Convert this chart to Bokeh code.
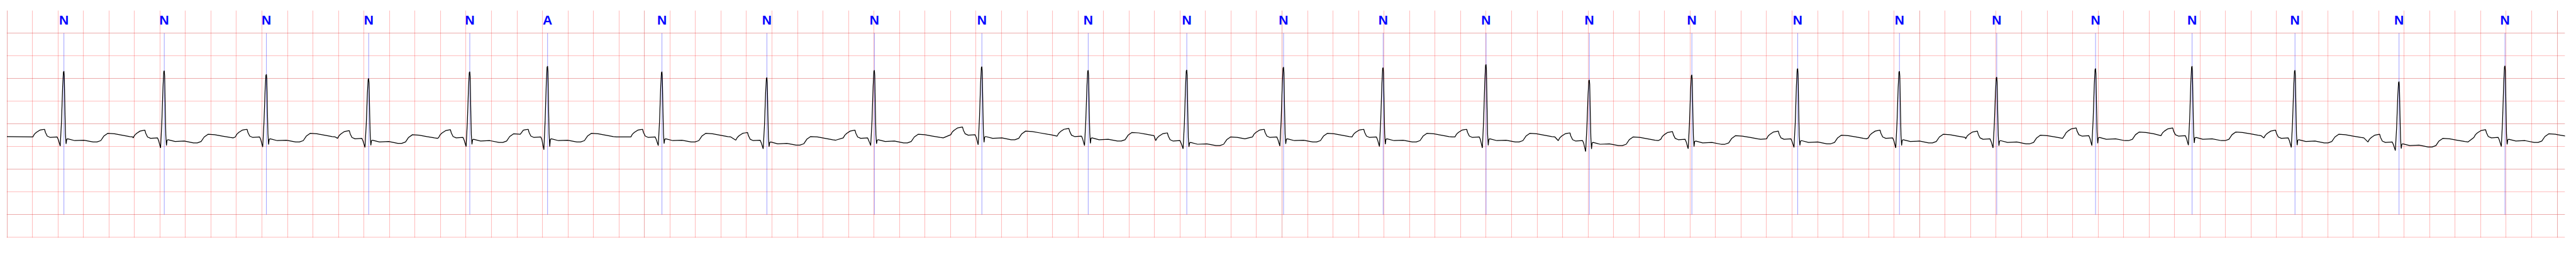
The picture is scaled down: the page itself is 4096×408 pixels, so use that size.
import math
from bokeh.plotting import figure
from bokeh.models import Range1d, Grid, FixedTicker, ColumnDataSource
from bokeh.core.properties import value
from bokeh.embed import file_html
from bokeh.resources import INLINE

# ---- beat annotations ----
r_time = [0.447, 1.234, 2.035, 2.837, 3.630, 4.240, 5.137, 5.960, 6.803, 7.646,
          8.480, 9.253, 10.012, 10.793, 11.600, 12.410, 13.214, 14.044, 14.842,
          15.605, 16.380, 17.137, 17.944, 18.760, 19.591]
labels = ["N", "N", "N", "N", "N", "A", "N", "N", "N", "N", "N", "N", "N", "N",
          "N", "N", "N", "N", "N", "N", "N", "N", "N", "N", "N"]
r_peak = [1.16, 1.17, 1.09, 1.00, 1.15, 1.27, 1.15, 1.02, 1.18, 1.26, 1.18, 1.19,
          1.25, 1.24, 1.31, 0.97, 1.08, 1.22, 1.16, 1.03, 1.22, 1.27, 1.18, 0.93, 1.28]
q_min = [-0.49, -0.53, -0.51, -0.52, -0.50, -0.57, -0.48, -0.55, -0.48, -0.46,
         -0.48, -0.55, -0.49, -0.50, -0.53, -0.61, -0.55, -0.52, -0.53, -0.53,
         -0.48, -0.47, -0.52, -0.59, -0.50]
baseline = [-0.29, -0.31, -0.29, -0.32, -0.30, -0.29, -0.29, -0.36, -0.31, -0.24,
            -0.27, -0.37, -0.29, -0.29, -0.29, -0.37, -0.34, -0.33, -0.31, -0.33,
            -0.26, -0.26, -0.31, -0.40, -0.30]

# signal before the first beat
lead_t = [0.0]
lead_v = [-0.28]

# one-beat waveform read from the first beat: time from R peak (s), mV above baseline
tmpl_off = [-0.244, -0.232, -0.217, -0.190, -0.172, -0.152, -0.145, -0.131, -0.107,
            -0.053, -0.044, -0.035, -0.029, -0.019, -0.010, -0.004, 0.0, 0.003,
            0.008, 0.012, 0.017, 0.022, 0.030, 0.085, 0.157, 0.229, 0.259, 0.289,
            0.313, 0.343, 0.396, 0.456, 0.516, 0.540]
tmpl_dev = [0.0, 0.06, 0.10, 0.15, 0.16, 0.17, 0.10, 0.02, -0.01,
            0.0, -0.06, -0.15, -0.21, 0.34, 1.10, 1.43, 1.45, 1.34,
            0.58, 0.07, -0.16, -0.05, -0.04, -0.08, -0.07, -0.11, -0.11, -0.08,
            0.02, 0.08, 0.07, 0.04, 0.01, 0.0]
TMPL_R = 1.45
TMPL_Q = -0.21

# grid ticks
x_ticks = [round(0.2 * k, 1) for k in range(101)]
y_ticks = [2.0, 1.5, 1.0, 0.5, 0.0, -0.5, -1.0, -1.5, -2.0, -2.5]

# ---- assemble trace ----
n = len(r_time)


def start_off(i):
    if i == 0:
        return tmpl_off[0]
    rr = r_time[i] - r_time[i - 1]
    return max(tmpl_off[0], -(rr - 0.40))


xs = list(lead_t)
ys = list(lead_v)
for i in range(n):
    R = r_time[i]
    lo = start_off(i)
    if i < n - 1:
        hi = (r_time[i + 1] - R) + start_off(i + 1)
    else:
        hi = math.inf
    rs = (r_peak[i] - baseline[i]) / TMPL_R
    qs = (q_min[i] - baseline[i]) / TMPL_Q
    for o, d in zip(tmpl_off, tmpl_dev):
        if o < lo - 1e-9 or o >= hi:
            continue
        if d > 0.25:
            d = d * rs
        elif d < -0.12:
            d = d * qs
        xs.append(R + o)
        ys.append(baseline[i] + d)

# ---- figure ----
p = figure(width=4080, height=392, frame_width=4068, frame_height=361,
           x_range=Range1d(-0.0025, 20.0615), y_range=Range1d(-2.5125, 2.5014),
           x_axis_location=None, y_axis_location=None, title=None,
           toolbar_location=None, output_backend="svg",
           min_border_left=10, min_border_right=2, min_border_top=16,
           min_border_bottom=15)
p.outline_line_color = None
p.background_fill_color = "white"
p.border_fill_color = "white"

gx = Grid(dimension=0, ticker=FixedTicker(ticks=x_ticks),
          grid_line_color="red", grid_line_alpha=0.25, grid_line_width=1.1)
gy = Grid(dimension=1, ticker=FixedTicker(ticks=y_ticks),
          grid_line_color="red", grid_line_alpha=0.25, grid_line_width=1.1)
p.add_layout(gx)
p.add_layout(gy)

ann = ColumnDataSource(dict(x=r_time, lab=labels,
                            top=[2.0] * n, bot=[-2.0] * n, ty=[2.29] * n))
p.segment(x0="x", y0="top", x1="x", y1="bot", source=ann,
          line_color="blue", line_alpha=0.55, line_width=0.7)

p.line(xs, ys, line_color="black", line_width=1.25)

p.text(x="x", y="ty", text="lab", source=ann, text_align="center",
       text_baseline="alphabetic", text_font=value("Liberation Sans"),
       text_font_style="bold", text_font_size="21px", text_color="#0000ff")

open("out.html", "w").write(file_html(p, INLINE))
